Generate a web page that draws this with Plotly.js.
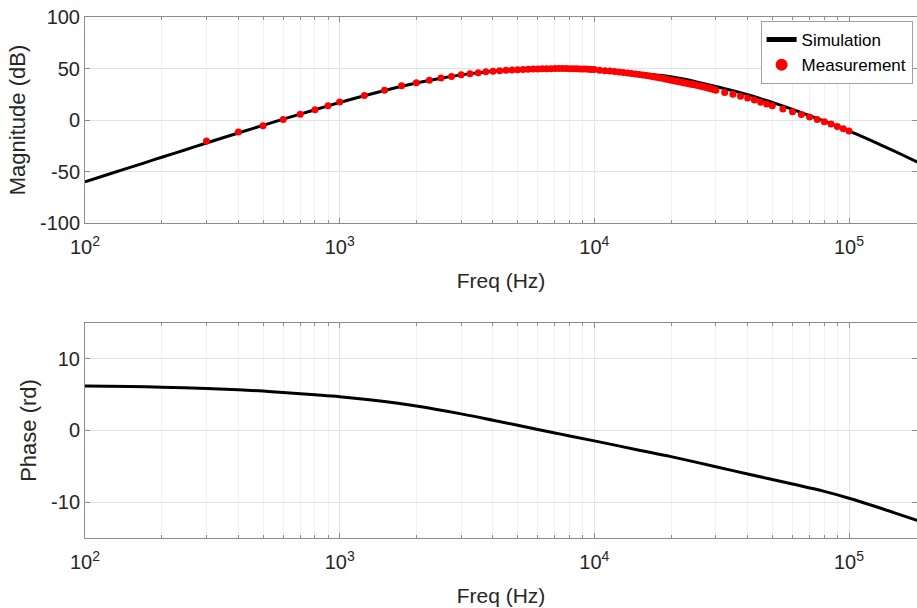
<!DOCTYPE html>
<html>
<head>
<meta charset="utf-8">
<script src="https://cdn.plot.ly/plotly-3.0.1.min.js"></script>
<style>
html,body{margin:0;padding:0;background:#fff;overflow:hidden;}
#chart{width:917px;height:608px;}
</style>
</head>
<body>
<div id="chart"></div>
<script>
// Simulation magnitude (dB)
const simFreq = [100,130,170,200,250,300,400,500,600,700,800,900,1000,1250,1500,1750,2000,2500,3000,3500,4000,5000,6000,7000,8000,9000,10000,12000,15000,17500,20000,25000,30000,35000,40000,45000,50000,60000,70000,80000,90000,100000,120000,150000,185000,200000];
const simMag = [-60,-51.0,-41.8,-36.2,-28.6,-22.3,-12.6,-5.2,0.8,5.75,10.0,13.7,17.0,23.6,28.7,32.7,35.95,40.6,43.8,45.9,47.4,48.95,49.6,49.85,49.75,49.35,48.8,47.5,45.4,43.7,41.9,37.25,32.5,28.35,24.5,20.8,17.1,10.3,4.3,-1.1,-6.0,-10.6,-19.1,-30.0,-40.6,-44.6];

// Measurement magnitude (dB)
const measFreq = [300,400,500,600,700,800,900,1000,
  1250,1500,1750,2000,2250,2500,2750,3000,3250,3500,3750,4000,
  4250,4500,4750,5000,5250,5500,5750,6000,6250,6500,6750,7000,
  7250,7500,7750,8000,8250,8500,8750,9000,9250,9500,9750,10000,
  10500,11000,11500,12000,12500,13000,13500,14000,14500,15000,
  15500,16000,16500,17000,17500,18000,18500,19000,19500,20000,
  20500,21000,21500,22000,22500,23000,23500,24000,24500,25000,
  25500,26000,26500,27000,27500,28000,28500,29000,29500,30000,
  32500,35000,37500,40000,42500,45000,47500,50000,
  55000,60000,65000,70000,75000,80000,85000,90000,95000,100000];
const measMag = [-20.3,-11.6,-5.5,0.5,5.5,10.0,13.9,17.4,
  23.9,29.0,33.2,36.1,38.7,40.7,42.3,43.9,44.9,45.8,46.8,47.4,
  47.8,48.2,48.6,48.9,49.1,49.3,49.5,49.6,49.7,49.8,49.8,49.9,
  49.9,49.9,49.9,49.8,49.8,49.7,49.6,49.5,49.4,49.3,49.1,49.0,
  48.4,47.9,47.5,47.1,46.6,46.1,45.6,45.2,44.7,44.2,
  43.7,43.2,42.6,42.1,41.6,41.0,40.5,39.9,39.3,38.7,
  38.2,37.7,37.2,36.7,36.2,35.7,35.2,34.8,34.4,34.0,
  33.5,33.0,32.5,32.0,31.5,31.0,30.5,30.0,29.5,29.0,
  26.8,24.9,23.1,21.3,19.3,17.3,15.5,13.8,
  10.7,7.9,5.4,2.8,0.6,-1.6,-3.9,-6.3,-8.5,-10.6];

// Simulation phase (rd)
const phaseFreq = [100,150,200,300,400,500,600,800,1000,1500,2000,3000,4000,5000,6000,7000,8000,10000,15000,20000,30000,40000,60000,80000,100000,136000,150000,185000,200000];
const phaseVal = [6.2,6.12,6.05,5.87,5.69,5.5,5.31,4.99,4.72,4.04,3.42,2.32,1.43,0.72,0.14,-0.34,-0.76,-1.45,-2.75,-3.65,-5.05,-6.07,-7.47,-8.5,-9.45,-10.95,-11.45,-12.55,-12.95];

// Tick labels
const xTickVals = [100,1000,10000,100000];
const xTickText = ['10<sup>2</sup>','10<sup>3</sup>','10<sup>4</sup>','10<sup>5</sup>'];
const magTickVals = [-100,-50,0,50,100];
const magTickText = ['-100','-50','0','50','100'];
const phTickVals = [-10,0,10];
const phTickText = ['-10','0','10'];

const axisLine = '#8c8c8c';
const gridC = '#e3e3e3';
const minorGrid = '#f0f0f0';
const txt = '#262626';
const FONT = 'Liberation Sans, Arial, Helvetica, sans-serif';

function xAxis(anchor){
  return {
    type:'log', range:[2, 5.267], anchor:anchor,
    tickmode:'array', tickvals:xTickVals, ticktext:xTickText,
    showline:true, mirror:'ticks', linecolor:axisLine, linewidth:1,
    ticks:'inside', ticklen:5, tickcolor:axisLine,
    showgrid:true, gridcolor:gridC, gridwidth:1, zeroline:false,
    minor:{dtick:'D1', showgrid:true, gridcolor:minorGrid, ticks:'inside', ticklen:3, tickcolor:axisLine},
    tickfont:{size:20, color:txt, family:FONT},
    ticklabelstandoff:6,
    title:{text:'Freq (Hz)', font:{size:21, color:txt, family:FONT}, standoff:16},
    automargin:false
  };
}
function yAxis(anchor, range, tv, tt, title, domain){
  return {
    anchor:anchor, domain:domain, range:range,
    tickmode:'array', tickvals:tv, ticktext:tt,
    showline:true, mirror:'ticks', linecolor:axisLine, linewidth:1,
    ticks:'inside', ticklen:5, tickcolor:axisLine,
    showgrid:true, gridcolor:gridC, gridwidth:1, zeroline:false,
    tickfont:{size:20, color:txt, family:FONT},
    title:{text:title, font:{size:22, color:txt, family:FONT}, standoff:8},
    automargin:false
  };
}

const traces = [
  {x:simFreq, y:simMag, xaxis:'x', yaxis:'y', type:'scatter', mode:'lines',
   name:'Simulation', line:{color:'#000000', width:3, shape:'spline', smoothing:1}},
  {x:measFreq, y:measMag, xaxis:'x', yaxis:'y', type:'scatter', mode:'markers',
   name:'Measurement', marker:{color:'#ff0000', size:7}},
  {x:phaseFreq, y:phaseVal, xaxis:'x2', yaxis:'y2', type:'scatter', mode:'lines',
   name:'Phase', showlegend:false, line:{color:'#000000', width:3, shape:'spline', smoothing:1}}
];

const layout = {
  width:917, height:608,
  margin:{l:85, r:0, t:17, b:70, autoexpand:false},
  paper_bgcolor:'#ffffff', plot_bgcolor:'#ffffff',
  font:{family:FONT, color:txt, size:20},
  showlegend:true,
  legend:{x:0.812, y:0.9923, xanchor:'left', yanchor:'top', bgcolor:'#ffffff',
          bordercolor:'#a0a0a0', borderwidth:1, font:{size:17, color:'#000000', family:FONT},
          tracegroupgap:0, itemsizing:'constant'},
  xaxis:xAxis('y'),
  yaxis:yAxis('x', [-100,100], magTickVals, magTickText, 'Magnitude (dB)', [0.6046,1]),
  xaxis2:xAxis('y2'),
  yaxis2:yAxis('x2', [-15,15], phTickVals, phTickText, 'Phase (rd)', [0,0.4127])
};

Plotly.newPlot('chart', traces, layout, {displayModeBar:false, staticPlot:true});
</script>
</body>
</html>
